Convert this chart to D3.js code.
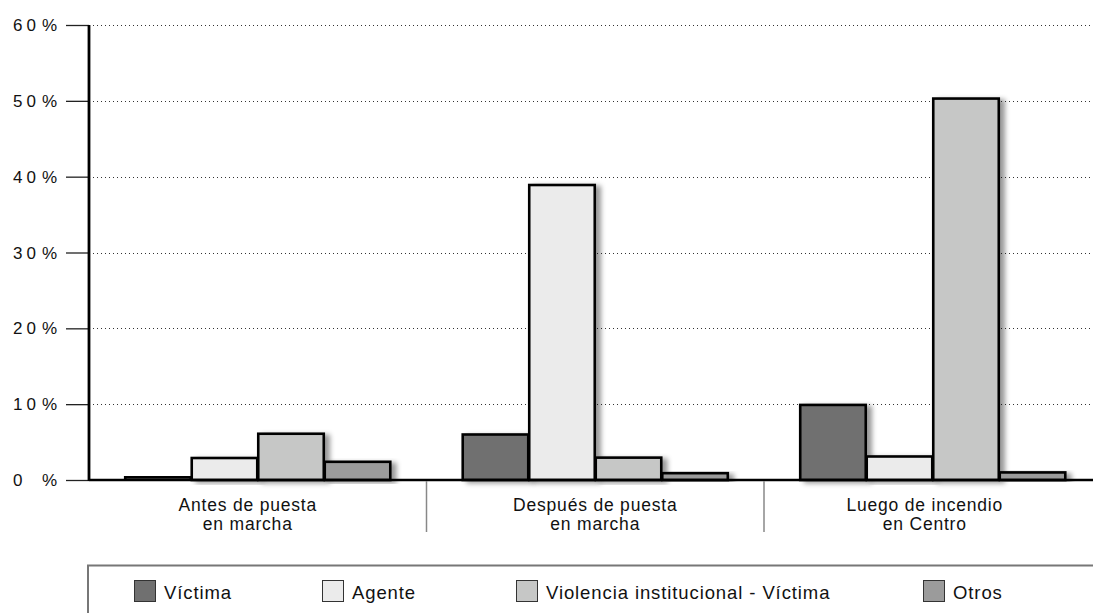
<!DOCTYPE html>
<html>
<head>
<meta charset="utf-8">
<script src="https://cdn.jsdelivr.net/npm/d3@7"></script>
<style>
  html, body { margin: 0; padding: 0; background: #fff; }
  svg { display: block; font-family: "Liberation Sans", Arial, sans-serif; }
</style>
</head>
<body>
<svg id="chart" width="1093" height="613"></svg>
<script>
// ---- data ----
const groups = ["Antes de puesta\nen marcha", "Después de puesta\nen marcha", "Luego de incendio\nen Centro"];
const seriesNames = ["Víctima", "Agente", "Violencia institucional - Víctima", "Otros"];
const victima = [0.4, 6.0, 9.9];
const agente = [2.9, 38.9, 3.1];
const violenciaInst = [6.1, 2.95, 50.3];
const otros = [2.4, 0.9, 1.0];
const yTicks = [0, 10, 20, 30, 40, 50, 60];

const seriesValues = [victima, agente, violenciaInst, otros];
const colors = ["#707070", "#ebebeb", "#c6c7c6", "#9b9b9b"];

const svg = d3.select("#chart");
const plotLeft = 89, plotBottom = 480, plotTop = 25;
const groupW = 337.5;
const labelShift = [-10, 0, -8]; // layout: category label nudges

const x0 = d3.scaleBand().domain(groups).range([plotLeft, plotLeft + groupW * groups.length]).paddingInner(0).paddingOuter(0);
const x1 = d3.scaleBand().domain(seriesNames).range([0, x0.bandwidth()]).paddingInner(0).paddingOuter(0.537);
const y = d3.scaleLinear().domain([0, 60]).range([plotBottom, plotTop]);
const color = d3.scaleOrdinal().domain(seriesNames).range(colors);

// shadow filter
const defs = svg.append("defs");
const f = defs.append("filter").attr("id", "shadow").attr("x", "-20%").attr("y", "-20%").attr("width", "160%").attr("height", "140%");
f.append("feDropShadow").attr("dx", 5).attr("dy", 2).attr("stdDeviation", 2.5)
  .attr("flood-color", "#000").attr("flood-opacity", 0.4);

// gridlines
svg.append("g").selectAll("line").data(yTicks.filter(d => d > 0)).join("line")
  .attr("x1", plotLeft).attr("x2", 1093)
  .attr("y1", d => Math.round(y(d)) + 0.5).attr("y2", d => Math.round(y(d)) + 0.5)
  .attr("stroke", "#333").attr("stroke-width", 1).attr("stroke-dasharray", "1,3");

// y axis ticks via d3 axis
const yAxis = d3.axisLeft(y).tickValues(yTicks).tickSize(23).tickFormat("");
const yg = svg.append("g").attr("transform", `translate(${plotLeft},0)`).call(yAxis);
yg.select(".domain").remove();
yg.selectAll(".tick line").attr("stroke", "#222").attr("stroke-width", 1.3);

// y tick labels
const lab = svg.append("g").attr("font-size", 17).attr("fill", "#111");
lab.selectAll("text.num").data(yTicks).join("text").attr("class", "num")
  .attr("x", 13).attr("y", d => y(d)).attr("dy", "0.36em")
  .attr("letter-spacing", "4px")
  .text(d => d);
lab.selectAll("text.pct").data(yTicks).join("text").attr("class", "pct")
  .attr("x", 57).attr("y", d => y(d)).attr("dy", "0.36em").attr("text-anchor", "end")
  .text("%");

// bars
const gGroups = svg.append("g").selectAll("g").data(groups).join("g")
  .attr("transform", d => `translate(${x0(d)},0)`);
gGroups.selectAll("rect").data((g, gi) => seriesNames.map((s, si) => ({ s, v: seriesValues[si][gi] })))
  .join("rect")
  .attr("x", d => x1(d.s) + 0.5)
  .attr("y", d => y(d.v))
  .attr("width", x1.bandwidth() - 1)
  .attr("height", d => plotBottom - y(d.v))
  .attr("fill", d => color(d.s))
  .attr("stroke", "#000").attr("stroke-width", 2.6)
  .attr("filter", "url(#shadow)");

// y axis line
svg.append("line").attr("x1", plotLeft).attr("x2", plotLeft).attr("y1", y(60)).attr("y2", plotBottom + 1)
  .attr("stroke", "#000").attr("stroke-width", 2.8);
// x axis line
svg.append("line").attr("x1", plotLeft).attr("x2", 1093).attr("y1", plotBottom).attr("y2", plotBottom)
  .attr("stroke", "#000").attr("stroke-width", 2.4);

// group dividers
svg.append("g").selectAll("line").data(groups.slice(1)).join("line")
  .attr("x1", d => x0(d)).attr("x2", d => x0(d))
  .attr("y1", plotBottom + 1).attr("y2", 532)
  .attr("stroke", "#888").attr("stroke-width", 1.5);

// category labels
const cat = svg.append("g").attr("font-size", 17.5).attr("fill", "#111").attr("text-anchor", "middle");
cat.selectAll("text").data(groups).join("text")
  .attr("letter-spacing", "0.8px")
  .each(function (d, i) {
    const cx = x0(d) + x0.bandwidth() / 2 + labelShift[i];
    d3.select(this).selectAll("tspan").data(d.split("\n")).join("tspan")
      .attr("x", cx)
      .attr("y", (l, j) => 510.5 + j * 19.5)
      .text(l => l);
  });

// legend
svg.append("path").attr("d", "M88,613 V565.5 H1093")
  .attr("fill", "none").attr("stroke", "#777").attr("stroke-width", 2);
const legendX = [134, 322, 516, 923];
const lg = svg.append("g").selectAll("g").data(seriesNames).join("g")
  .attr("transform", (d, i) => `translate(${legendX[i]},580)`);
lg.append("rect").attr("x", 0.5).attr("y", 0.5).attr("width", 21).attr("height", 21)
  .attr("fill", d => color(d)).attr("stroke", "#333").attr("stroke-width", 1);
lg.append("text").attr("x", 30).attr("y", 18.5).attr("font-size", 18.5).attr("fill", "#111")
  .attr("letter-spacing", "0.9px").text(d => d);
</script>
</body>
</html>
